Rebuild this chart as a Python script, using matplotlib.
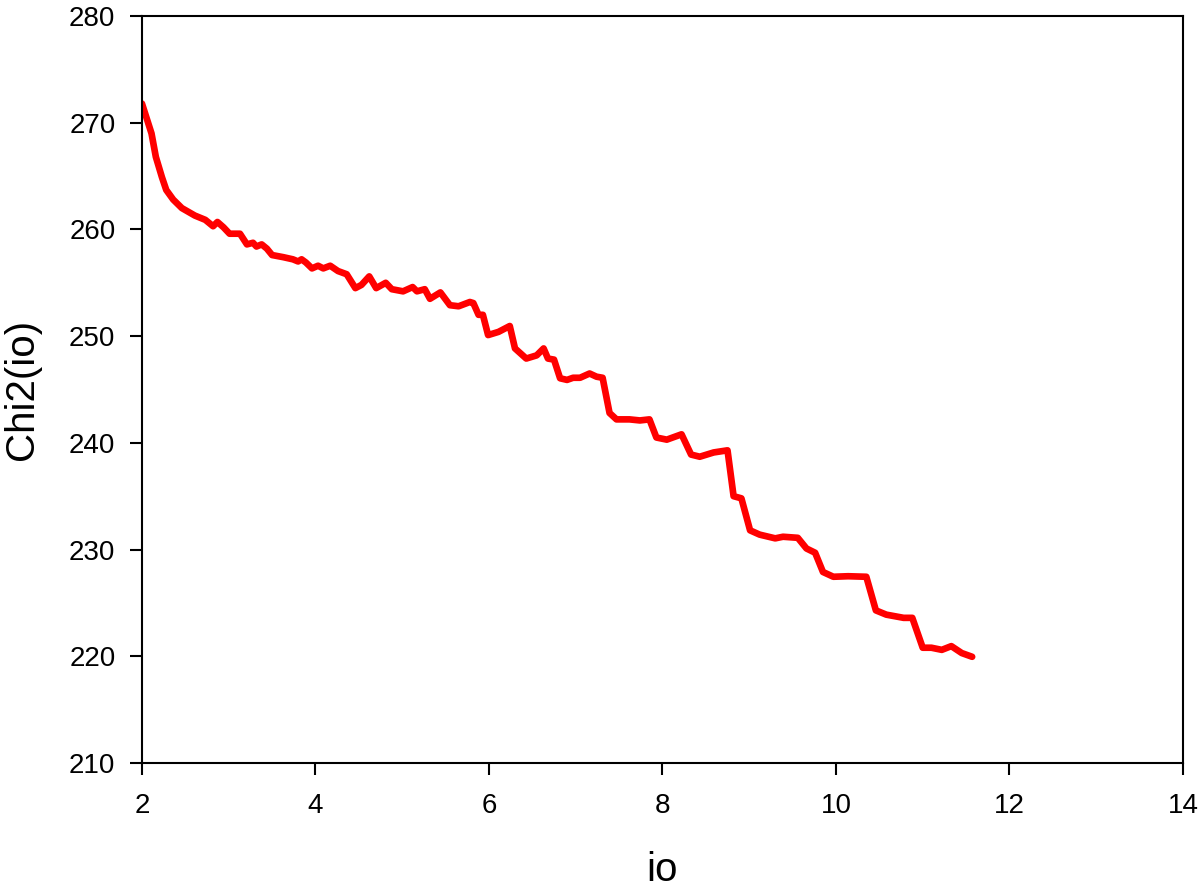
import matplotlib.pyplot as plt

plt.rcParams['font.family'] = ['Liberation Sans', 'DejaVu Sans']

# values
io = [2.00, 2.11, 2.16, 2.23, 2.28, 2.36, 2.46, 2.61, 2.73, 2.82,
      2.87, 2.94, 3.01, 3.13, 3.21, 3.28, 3.32, 3.38, 3.44, 3.50,
      3.63, 3.74, 3.80, 3.84, 3.89, 3.96, 4.03, 4.09, 4.17, 4.26,
      4.36, 4.46, 4.53, 4.62, 4.70, 4.81, 4.88, 5.01, 5.12, 5.17,
      5.26, 5.32, 5.44, 5.55, 5.65, 5.78, 5.82, 5.88, 5.93, 5.99,
      6.11, 6.24, 6.30, 6.43, 6.55, 6.63, 6.68, 6.75, 6.82, 6.90,
      6.97, 7.05, 7.16, 7.24, 7.31, 7.39, 7.47, 7.62, 7.74, 7.85,
      7.93, 8.05, 8.22, 8.33, 8.43, 8.59, 8.75, 8.82, 8.91, 9.01,
      9.12, 9.30, 9.39, 9.56, 9.66, 9.76, 9.85, 9.97, 10.14, 10.35,
      10.46, 10.58, 10.78, 10.88, 11.00, 11.10, 11.22, 11.33, 11.45, 11.57]
chi2 = [271.8, 269.0, 266.8, 264.9, 263.7, 262.8, 262.0, 261.3, 260.9, 260.3,
        260.7, 260.2, 259.6, 259.6, 258.6, 258.75, 258.4, 258.6, 258.2, 257.6,
        257.4, 257.2, 257.0, 257.2, 256.9, 256.35, 256.6, 256.35, 256.6, 256.1,
        255.8, 254.5, 254.8, 255.6, 254.5, 255.0, 254.4, 254.2, 254.6, 254.2,
        254.4, 253.5, 254.1, 252.9, 252.8, 253.2, 253.1, 252.0, 252.0, 250.1,
        250.4, 250.95, 248.85, 247.9, 248.2, 248.85, 247.9, 247.8, 246.05, 245.9,
        246.1, 246.1, 246.5, 246.2, 246.1, 242.8, 242.2, 242.2, 242.1, 242.2,
        240.5, 240.3, 240.8, 238.9, 238.7, 239.1, 239.3, 235.0, 234.8, 231.8,
        231.4, 231.05, 231.2, 231.1, 230.1, 229.7, 227.9, 227.45, 227.5, 227.45,
        224.3, 223.9, 223.6, 223.6, 220.8, 220.8, 220.6, 220.95, 220.3, 219.95]

x_ticks = [2, 4, 6, 8, 10, 12, 14]
y_ticks = [210, 220, 230, 240, 250, 260, 270, 280]

fig = plt.figure(figsize=(12, 8.91), dpi=100)
ax = fig.add_axes([0.1183, 0.1437, 0.8675, 0.8383])

ax.plot(io, chi2, color='#ff0000', linewidth=4.8, solid_joinstyle='round', solid_capstyle='round')

ax.set_xlim(2, 14)
ax.set_ylim(210, 280)
ax.set_xticks(x_ticks)
ax.set_yticks(y_ticks)

for s in ax.spines.values():
    s.set_linewidth(1.5)

ax.tick_params(axis='both', direction='out', length=8.6, width=1.5, labelsize=20)
ax.tick_params(axis='x', pad=13)
ax.tick_params(axis='y', pad=10.5)

ax.set_xlabel('io', fontsize=29)
ax.set_ylabel('Chi2(io)', fontsize=29)
ax.xaxis.set_label_coords(0.5, -0.143)
ax.xaxis.label.set_va('center')
ax.yaxis.set_label_coords(-0.115, 0.5)
ax.yaxis.label.set_va('center')

plt.savefig('out.png', dpi=100)
